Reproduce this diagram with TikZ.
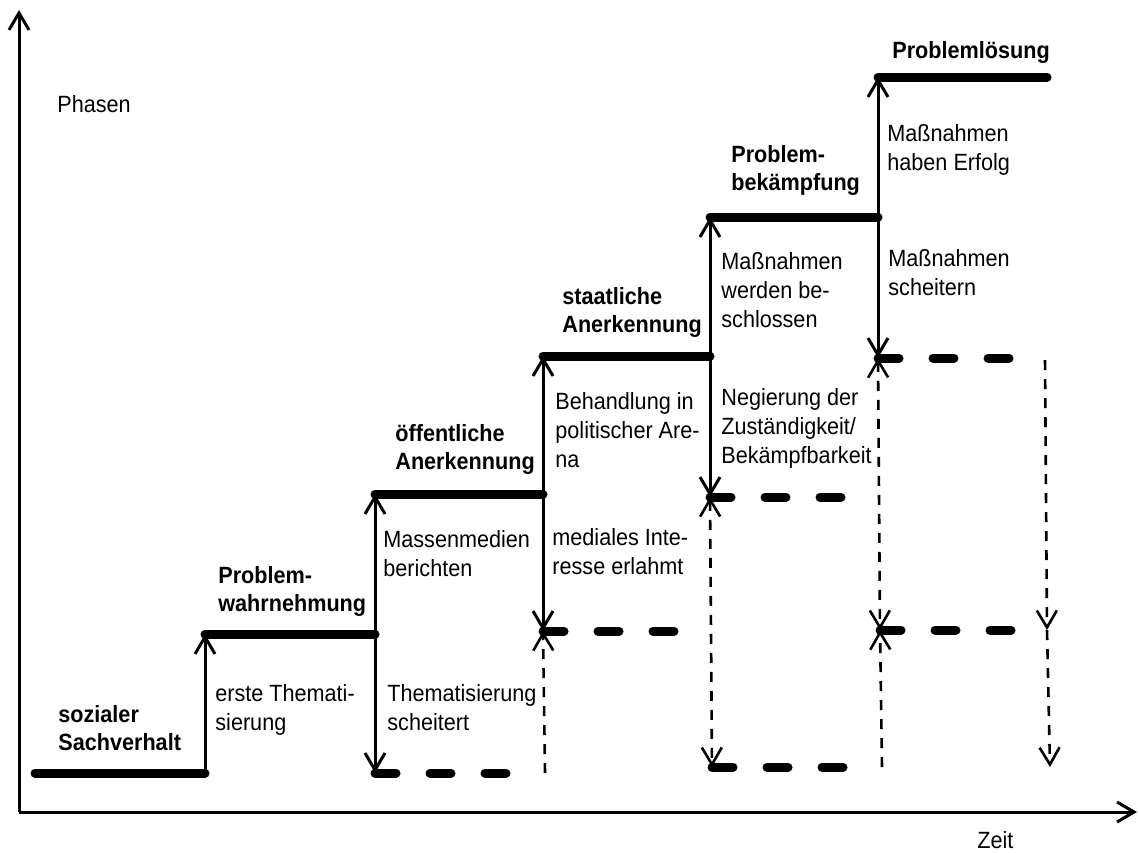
\documentclass[tikz,border=0pt]{standalone}
\usepackage{fontspec}
\setmainfont{Liberation Sans}[FakeStretch=0.92]
\usetikzlibrary{arrows.meta}

\tikzset{
  phase/.style={line width=4.5pt, line cap=round},
  failed/.style={phase, dash pattern=on 10.5pt off 17pt},
  rise/.style={line width=1.5pt, ->},
  back/.style={line width=1.3pt, dash pattern=on 5pt off 4.5pt},
  axis/.style={line width=1.5pt, ->},
  lbl/.style={anchor=west, align=left, inner sep=0pt,
    font=\fontsize{11.75pt}{14.5pt}\selectfont},
  phaselbl/.style={lbl, font=\fontsize{11.75pt}{14pt}\selectfont\bfseries}
}

\begin{document}
\begin{tikzpicture}[x=0.5pt,y=-0.5pt, >={Straight Barb[length=8.5pt,width=10pt]}]
\useasboundingbox (0,0) rectangle (1139,852);

% axes
\coordinate (o) at (19,812);
\coordinate (ytop) at (19,10);
\coordinate (xend) at (1137,812);
\draw[axis] (o) -- (ytop);
\draw[axis] (o) -- (xend);
\node[lbl] (phasen) at (57,104) {Phasen};
\node[lbl] (zeit) at (977,840) {Zeit};

% steps
\coordinate (s0) at (35,773);
\coordinate (s0e) at (205,773);
\coordinate (s1) at (205,634);
\coordinate (s1e) at (375,634);
\coordinate (s2) at (375,494);
\coordinate (s2e) at (543,494);
\coordinate (s3) at (543,356);
\coordinate (s3e) at (710,356);
\coordinate (s4) at (710,217);
\coordinate (s4e) at (878,217);
\coordinate (s5) at (878,77);
\coordinate (s5e) at (1047,77);

% failure levels
\coordinate (f1) at (375,773);
\coordinate (f1e) at (515,773);
\coordinate (f2) at (543,631);
\coordinate (f2e) at (683,631);
\coordinate (b2) at (545,773);
\coordinate (f3) at (710,497);
\coordinate (f3e) at (850,497);
\coordinate (f3b) at (712,767);
\coordinate (f3be) at (850,767);
\coordinate (f4) at (878,358);
\coordinate (f4e) at (1018,358);
\coordinate (f4b) at (880,630);
\coordinate (f4be) at (1018,630);
\coordinate (b4) at (882,767);
\coordinate (r0) at (1045,360);
\coordinate (r1) at (1047,630);
\coordinate (r2) at (1050,767);

\draw[phase] (s0) -- (s0e);
\draw[phase] (s1) -- (s1e);
\draw[phase] (s2) -- (s2e);
\draw[phase] (s3) -- (s3e);
\draw[phase] (s4) -- (s4e);
\draw[phase] (s5) -- (s5e);

\draw[rise] (s0e) -- (s1);
\draw[rise] (s1e) -- (s2);
\draw[rise] (s2e) -- (s3);
\draw[rise] (s3e) -- (s4);
\draw[rise] (s4e) -- (s5);

\draw[rise] (s1e) -- (f1);
\draw[failed] (f1) -- (f1e);
\draw[rise] (s2e) -- (f2);
\draw[failed] (f2) -- (f2e);
\draw[back,->] (b2) -- (f2);
\draw[rise] (s3e) -- (f3);
\draw[failed] (f3) -- (f3e);
\draw[back,<->] (f3) -- (f3b);
\draw[failed] (f3b) -- (f3be);
\draw[rise] (s4e) -- (f4);
\draw[failed] (f4) -- (f4e);
\draw[back,<->] (f4) -- (f4b);
\draw[back,->] (b4) -- (f4b);
\draw[failed] (f4b) -- (f4be);
\draw[back,->] (r0) -- (r1);
\draw[back,->] (r1) -- (r2);

% phase names
\node[phaselbl] (sozial) at (58,728) {sozialer\\Sachverhalt};
\node[phaselbl] (wahr) at (218,591) {Problem-\\wahrnehmung};
\node[phaselbl] (oeff) at (395,449) {öffentliche\\Anerkennung};
\node[phaselbl] (staat) at (562,312) {staatliche\\Anerkennung};
\node[phaselbl] (bekaempf) at (731,170) {Problem-\\bekämpfung};
\node[phaselbl] (loesung) at (892,52) {Problemlösung};

% transitions
\node[lbl] (erste) at (215,710) {erste Themati-\\sierung};
\node[lbl] (scheit) at (387,708) {Thematisierung\\scheitert};
\node[lbl] (medien) at (383,554) {Massenmedien\\berichten};
\node[lbl] (erlahmt) at (552,552) {mediales Inte-\\resse erlahmt};
\node[lbl] (arena) at (555,430) {Behandlung in\\politischer Are-\\na};
\node[lbl] (negier) at (721,428) {Negierung der\\Zuständigkeit/\\Bekämpfbarkeit};
\node[lbl] (beschl) at (721,290) {Maßnahmen\\werden be-\\schlossen};
\node[lbl] (erfolg) at (887,150) {Maßnahmen\\haben Erfolg};
\node[lbl] (scheitern) at (888,273) {Maßnahmen\\scheitern};
\end{tikzpicture}
\end{document}
